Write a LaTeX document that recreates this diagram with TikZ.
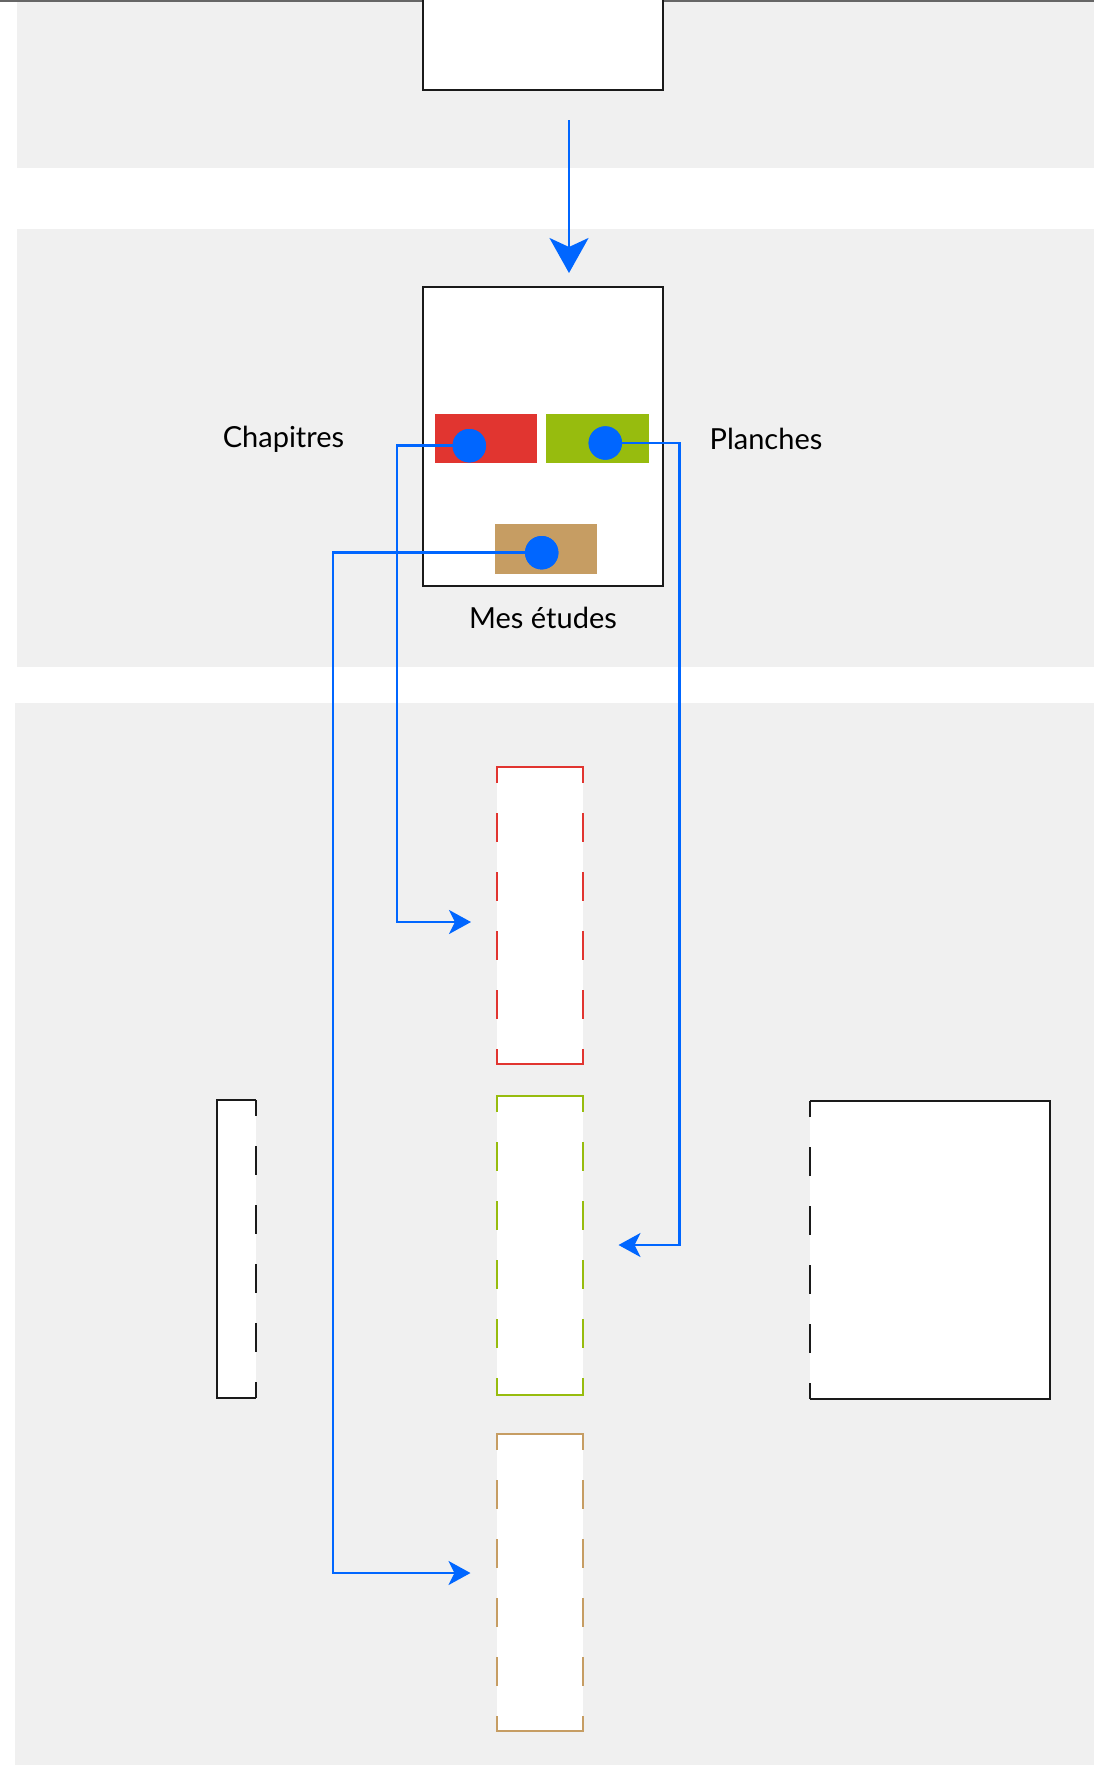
\documentclass[tikz,border=0pt]{standalone}
\usepackage{fontspec}
\setmainfont{Lato}
\usetikzlibrary{arrows.meta}
\definecolor{bgg}{HTML}{F0F0F0}
\definecolor{link}{HTML}{0066FF}
\definecolor{cred}{HTML}{E13530}
\definecolor{cgreen}{HTML}{97BC0E}
\definecolor{ctan}{HTML}{C69D63}
\definecolor{frame}{HTML}{1A1A1A}
\definecolor{edgegray}{HTML}{666666}
\begin{document}
\begin{tikzpicture}[x=1pt,y=-1pt,
  band/.style={fill=bgg, draw=none},
  framebox/.style={rectangle, draw=frame, line width=2.7pt, fill=white, inner sep=0pt, outer sep=0pt},
  whitebox/.style={rectangle, fill=white, inner sep=0pt, outer sep=0pt, draw=none},
  swatch/.style={rectangle, inner sep=0pt, outer sep=0pt, draw=none},
  blob/.style={circle, fill=link, minimum size=33.4pt, inner sep=0pt, draw=none},
  wire/.style={draw=link, line width=2.5pt},
  solidside/.style={line width=2.6pt, line cap=rect},
  dashside/.style={line width=2.6pt, dash pattern=on 29pt off 30pt, dash phase=13pt},
  lbl/.style={font=\fontsize{29}{34}\selectfont, anchor=base, inner sep=0pt},
  bigtip/.style={-{Stealth[length=35pt,width=39pt,inset=9pt]}},
  smalltip/.style={-{Stealth[length=22pt,width=24pt,inset=6pt]}},
]
\useasboundingbox (0,0) rectangle (1094,1765);
% background bands
\fill[band] (17,0) rectangle (1094,168);
\fill[band] (17,229) rectangle (1094,667);
\fill[band] (15,703) rectangle (1094,1765);
\draw[draw=edgegray, line width=1.5pt] (0,0.75) -- (1094,0.75);

% top box (cut by page top)
\node[framebox, minimum width=240pt, minimum height=100pt] (topbox) at (543,40) {};

% Mes etudes box
\node[framebox, minimum width=240pt, minimum height=299pt] (etudes) at (543,436.5) {};
\node[swatch, fill=cred, minimum width=102pt, minimum height=49pt] (rsw) at (486,438.5) {};
\node[swatch, fill=cgreen, minimum width=103pt, minimum height=49pt] (gsw) at (597.5,438.5) {};
\node[swatch, fill=ctan, minimum width=102pt, minimum height=50pt] (tsw) at (546,549) {};

% dashed boxes
\node[whitebox, minimum width=86pt, minimum height=297pt] (rbox) at (540,915.5) {};
\node[whitebox, minimum width=86pt, minimum height=299pt] (gbox) at (540,1245.5) {};
\node[whitebox, minimum width=86pt, minimum height=297pt] (tbox) at (540,1582.5) {};
\node[whitebox, minimum width=39pt, minimum height=298pt] (lbox) at (236.5,1249) {};
\node[whitebox, minimum width=240pt, minimum height=298pt] (rtbox) at (930,1250) {};

\foreach \b/\c in {rbox/cred, gbox/cgreen, tbox/ctan}{
  \draw[solidside, draw=\c] (\b.north west) -- (\b.north east);
  \draw[solidside, draw=\c] (\b.south west) -- (\b.south east);
  \draw[dashside, draw=\c] (\b.north west) -- (\b.south west);
  \draw[dashside, draw=\c] (\b.north east) -- (\b.south east);
}
\draw[line width=2.6pt, draw=frame, line join=miter] (lbox.north east) -- (lbox.north west) -- (lbox.south west) -- (lbox.south east);
\draw[dashside, draw=frame] (lbox.north east) -- (lbox.south east);
\draw[line width=2.6pt, draw=frame, line join=miter] (rtbox.north west) -- (rtbox.north east) -- (rtbox.south east) -- (rtbox.south west);
\draw[dashside, draw=frame] (rtbox.north west) -- (rtbox.south west);

% dots
\node[blob] (rdot) at (469.3,445.7) {};
\node[blob] (gdot) at (605.3,443) {};
\node[blob] (tdot) at (541.7,552.7) {};

% connectors
\coordinate (astart) at (569,120);
\coordinate (aend) at (569,273);
\draw[wire, bigtip] (astart) -- (aend);

\coordinate (rturn) at (397,445.7);
\coordinate (rend) at (471,922);
\coordinate (gturn) at (679.5,443);
\coordinate (gend) at (618.5,1245);
\coordinate (tturn) at (333,552.7);
\coordinate (tend) at (470.5,1573);
\draw[wire, smalltip] (rdot.center) -- (rturn) |- (rend);
\draw[wire, smalltip] (gdot.center) -- (gturn) |- (gend);
\draw[wire, smalltip] (tdot.center) -- (tturn) |- (tend);
% dots on top of wires
\fill[link] (rdot) circle (16.7pt);
\fill[link] (gdot) circle (16.7pt);
\fill[link] (tdot) circle (16.7pt);

% labels
\node[lbl] (chap) at (283.5,447) {Chapitres};
\node[lbl] (planch) at (766,449) {Planches};
\node[lbl] (mes) at (543,628) {Mes études};
\end{tikzpicture}
\end{document}
